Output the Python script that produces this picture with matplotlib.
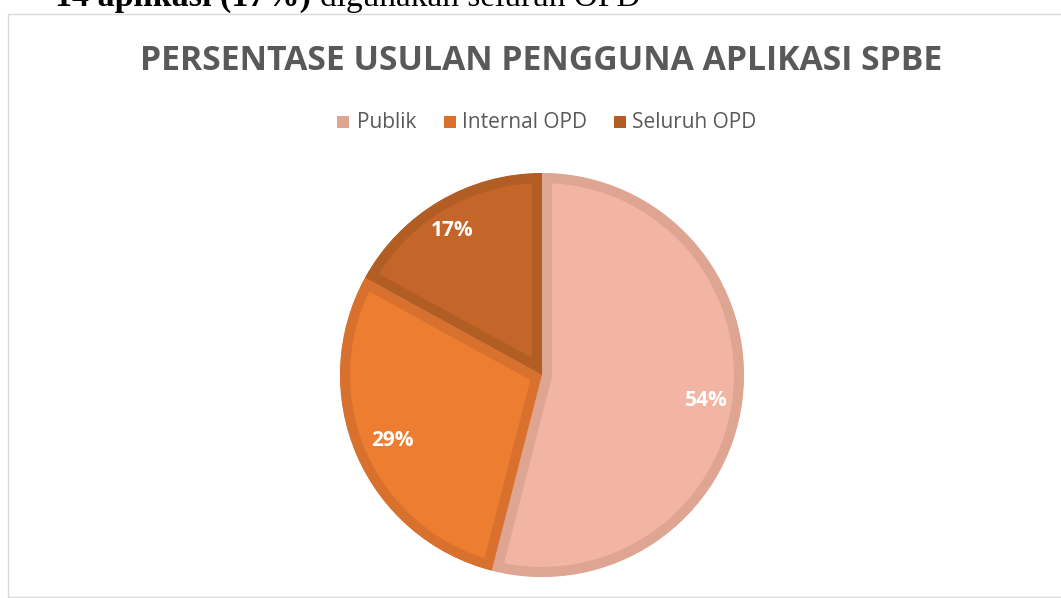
import matplotlib
matplotlib.use("Agg")
import matplotlib.pyplot as plt
from matplotlib.patches import Rectangle

categories = ["Publik", "Internal OPD", "Seluruh OPD"]
values = [54, 29, 17]
labels = ["54%", "29%", "17%"]
title = "PERSENTASE USULAN PENGGUNA APLIKASI SPBE"
fill_colors = ["#F3B5A3", "#ED7D31", "#C4652A"]
edge_colors = ["#DEA593", "#D8712E", "#B15D24"]

W, H = 1061, 598
fig = plt.figure(figsize=(W / 100, H / 100), dpi=100)
ax = fig.add_axes([0, 0, 1, 1])

def py(y):
    return H - y

# cropped caption text above chart
fig.text(55 / W, 1 - 6 / H, "14 aplikasi (17%)", family="Liberation Serif",
         fontweight="bold", fontsize=24.5, color="black", va="baseline", ha="left")
fig.text(320 / W, 1 - 6 / H, "digunakan seluruh OPD", family="Liberation Serif",
         fontsize=24, color="black", va="baseline", ha="left")

# chart frame
ax.add_patch(Rectangle((8, py(597)), W + 10, 597 - 14, fill=False,
                       edgecolor="#D9D9D9", linewidth=1.0))

ax.set_xlim(0, W)
ax.set_ylim(0, H)

cx, cy, R = 542, 375, 202
wedges, _ = ax.pie(values, colors=fill_colors, startangle=90, counterclock=False,
                   center=(cx, py(cy)), radius=R, frame=False)
ax.set_xlim(0, W)
ax.set_ylim(0, H)
ax.set_aspect("auto")
for w, ec in zip(wedges, edge_colors):
    w.set_edgecolor(ec)
    w.set_linewidth(14.5)
    w.set_joinstyle("miter")
    w.set_clip_on(True)
    w.set_clip_path(w)

label_pos = [(706, 400), (392, 441), (452, 230)]
for (x, y), t in zip(label_pos, labels):
    ax.text(x, py(y), t, color="white", fontsize=15, fontweight="bold",
            family="Open Sans", ha="center", va="center")

ax.text(541, py(70), title, color="#595959", fontsize=24.3, fontweight="bold",
        family="Open Sans", ha="center", va="baseline")

# legend
leg_items = [(337, 357), (444, 462), (614, 632)]
for (sx, tx), name, c in zip(leg_items, categories, edge_colors):
    ax.add_patch(Rectangle((sx, py(128)), 12, 12, facecolor=c, edgecolor="none"))
    ax.text(tx, py(122), name, color="#595959", fontsize=15, family="Open Sans",
            ha="left", va="center")

ax.axis("off")
fig.savefig("out.png", dpi=100)
